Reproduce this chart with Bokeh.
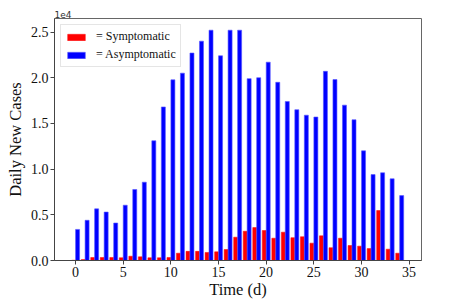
from bokeh.plotting import figure
from bokeh.models import ColumnDataSource, FixedTicker, NumeralTickFormatter, Range1d, Legend, LegendItem
from bokeh.embed import file_html
from bokeh.resources import INLINE
import numpy as np

# Daily new cases, in units of 1e4
days = list(range(35))
symptomatic = [0.003, 0.01, 0.033, 0.033, 0.033, 0.03, 0.047, 0.04, 0.03, 0.03,
               0.033, 0.08, 0.10, 0.10, 0.088, 0.095, 0.12, 0.255, 0.32, 0.36,
               0.328, 0.244, 0.31, 0.25, 0.26, 0.19, 0.27, 0.14, 0.244, 0.164,
               0.157, 0.13, 0.547, 0.124, 0.08]
asymptomatic = [0.34, 0.44, 0.565, 0.53, 0.41, 0.605, 0.777, 0.857, 1.31, 1.68,
                1.977, 2.05, 2.27, 2.40, 2.52, 2.24, 2.52, 2.52, 1.99, 2.0,
                2.17, 1.95, 1.74, 1.65, 1.59, 1.57, 2.07, 1.98, 1.70, 1.54,
                1.20, 0.94, 0.96, 0.894, 0.71]
x_ticks = [0, 5, 10, 15, 20, 25, 30, 35]
y_ticks = [0.0, 0.5, 1.0, 1.5, 2.0, 2.5]

d = np.array(days, dtype=float)
src = ColumnDataSource(dict(xs=d - 0.2, xa=d + 0.22, s=symptomatic, a=asymptomatic))

p = figure(frame_width=367, frame_height=242, output_backend="svg", toolbar_location=None,
           x_range=Range1d(-2.2, 36.3), y_range=Range1d(0, 2.648),
           min_border_left=54, min_border_top=18, min_border_right=20, min_border_bottom=37,
           title="1e4")
p.title.text_font = "DejaVu Sans"
p.title.text_font_size = "9px"
p.title.text_font_style = "normal"
p.title.text_color = "#333333"
p.title.standoff = 2

r1 = p.vbar(x="xs", top="s", width=0.4, bottom=0, source=src, fill_color="#ff0000", line_color="#ff0000", line_width=0.5)
r2 = p.vbar(x="xa", top="a", width=0.42, bottom=0, source=src, fill_color="#0000ff", line_color="#5555ff", line_width=0.6)

p.grid.visible = False
p.background_fill_color = "white"
p.outline_line_color = "#666666"
p.outline_line_width = 1

for ax in (p.xaxis, p.yaxis):
    ax.axis_line_color = "#444444"
    ax.major_tick_line_color = "#444444"
    ax.major_tick_out = 4
    ax.major_tick_in = 0
    ax.minor_tick_line_color = None
    ax.major_label_text_font = "Liberation Serif"
    ax.major_label_text_font_size = "14px"
    ax.major_label_text_color = "#111111"
    ax.axis_label_text_font = "Liberation Serif"
    ax.axis_label_text_font_size = "16.5px"
    ax.axis_label_text_font_style = "normal"
    ax.axis_label_text_color = "#111111"

p.xaxis.ticker = FixedTicker(ticks=x_ticks)
p.yaxis.ticker = FixedTicker(ticks=y_ticks)
p.yaxis.formatter = NumeralTickFormatter(format="0.0")
p.xaxis.axis_label = "Time (d)"
p.yaxis.axis_label = "Daily New Cases"
p.xaxis.axis_label_standoff = 0
p.yaxis.axis_label_standoff = 3
p.xaxis.major_label_standoff = 2
p.yaxis.major_label_standoff = 2

legend = Legend(items=[LegendItem(label="= Symptomatic", renderers=[r1]),
                       LegendItem(label="= Asymptomatic", renderers=[r2])],
                location="top_left")
legend.label_text_font = "Liberation Serif"
legend.label_text_font_size = "12px"
legend.label_text_color = "#111111"
legend.glyph_width = 22
legend.glyph_height = 8
legend.label_height = 12
legend.spacing = 3
legend.padding = 4
legend.margin = 6
legend.border_line_color = "#cccccc"
legend.border_line_width = 1
legend.label_standoff = 9
p.add_layout(legend)

open("out.html", "w").write(file_html(p, INLINE))
